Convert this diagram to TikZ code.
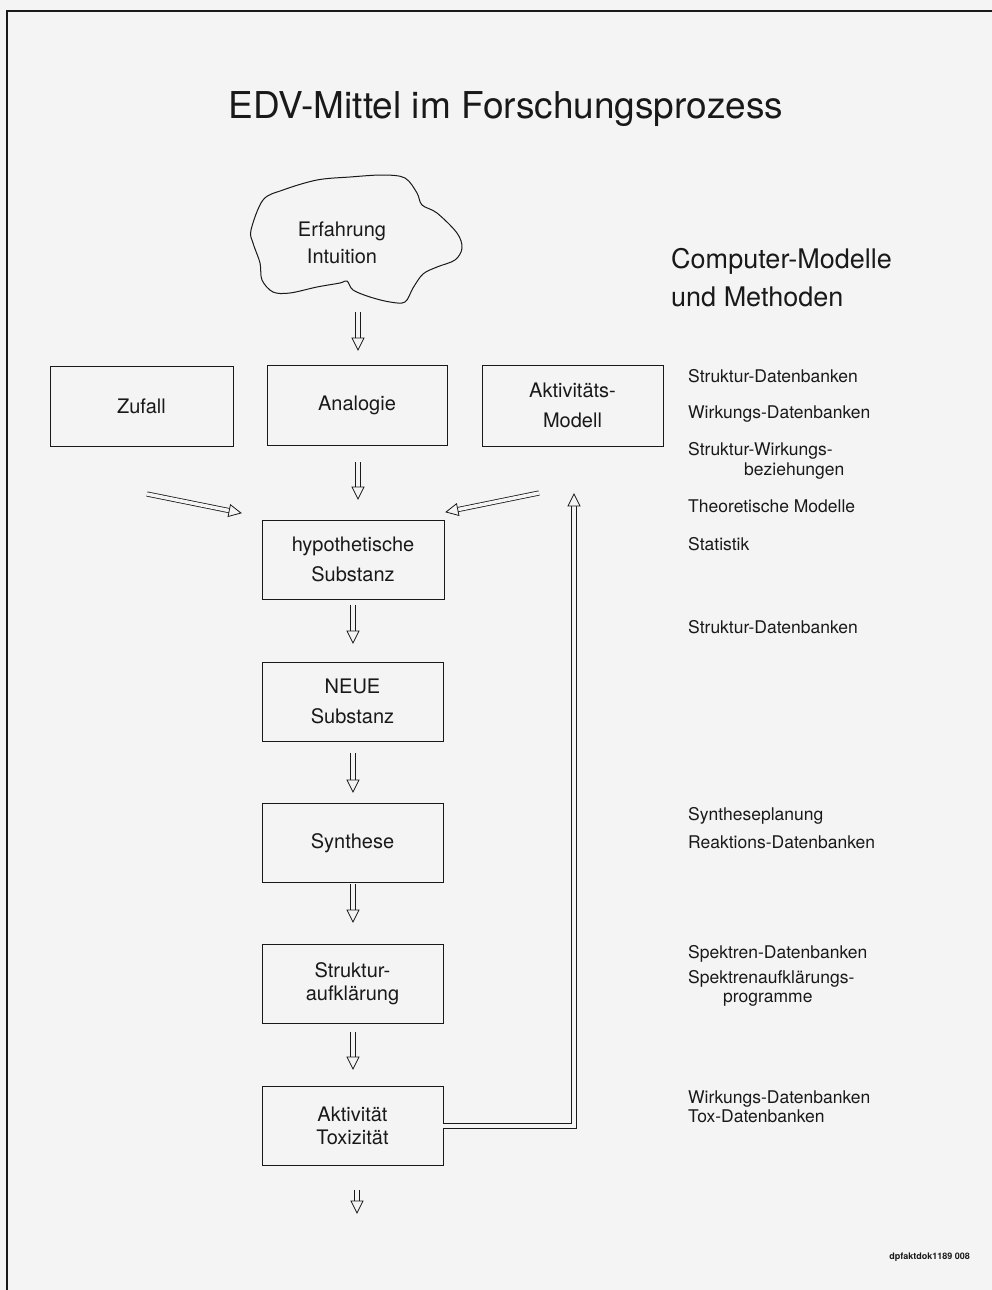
\documentclass[tikz,border=0pt]{standalone}
\usepackage{fontspec}
\setmainfont{TeX Gyre Heros}
\usetikzlibrary{calc}
\definecolor{paper}{gray}{0.955}
\definecolor{ink}{gray}{0.1}
\newcommand\hhead[2]{%
  \draw[holhead] ($(#2)!12pt!(#1)!6pt!90:(#2)$) -- (#2) -- ($(#2)!12pt!(#1)!6pt!-90:(#2)$) -- cycle;}
\newcommand\harrow[2]{%
  \draw[hol] (#1) -- ($(#2)!12pt!(#1)$);
  \hhead{#1}{#2}}
\begin{document}
\begin{tikzpicture}[x=1pt,y=-1pt,
  box/.style={draw=ink, line width=0.9pt, minimum width=181pt, minimum height=79pt, align=center, font=\fontsize{20}{30}\selectfont, inner sep=0pt, text=ink},
  lbl/.style={anchor=base west, font=\fontsize{17.5}{20}\selectfont, inner sep=0pt, text=ink},
  hol/.style={draw=ink, line width=0.8pt, double=paper, double distance=3.5pt},
  holhead/.style={draw=ink, line width=0.8pt, fill=paper, line join=miter}]
\fill[paper] (0,0) rectangle (992,1290);
\useasboundingbox (0,0) rectangle (992,1290);
% page frame
\draw[ink, line width=1.4pt] (7,1290) -- (7,11) -- (992,11);
% title
\node[anchor=base, inner sep=0pt, text=ink, font=\fontsize{37}{40}\selectfont] (title) at (506,118) {EDV-Mittel im Forschungsprozess};
% cloud
\node[align=center, inner sep=0pt, text=ink, font=\fontsize{20}{27}\selectfont] (cloud) at (342,243) {Erfahrung\\Intuition};
\draw[ink, line width=1pt] plot[smooth cycle, tension=0.55] coordinates {
 (251,230) (263,200) (283,190) (317,180) (350,177) (383,175) (405,178) (417,193)
 (422,205) (437,213) (457,233) (462,248) (455,260) (437,267) (423,274) (413,288)
 (405,302) (390,302) (370,297) (353,290) (347,281) (340,283) (317,287) (290,293)
 (273,292) (262,280) (260,263) (253,243)};
% boxes
\node[box, minimum width=183pt, minimum height=80pt] (zufall) at (141.5,406) {Zufall};
\node[box, minimum width=180pt, minimum height=80pt] (analogie) at (357,405) {Analogie};
\node[box, minimum height=81pt] (aktmod) at (572.5,405.5) {Aktivitäts-\\Modell};
\node[box, minimum width=182pt] (hyp) at (353,559.5) {hypothetische\\Substanz};
\node[box] (neue) at (352.5,701.5) {NEUE\\Substanz};
\node[box] (synth) at (352.5,843) {Synthese};
\node[box, font=\fontsize{20}{23}\selectfont] (strukt) at (352.5,984) {Struktur-\\aufklärung};
\node[box, font=\fontsize{20}{23}\selectfont] (akt) at (352.5,1126) {Aktivität\\Toxizität};
% arrow end points
\coordinate (a1s) at (358,312);  \coordinate (a1e) at (358,350);
\coordinate (a2s) at (358,462);  \coordinate (a2e) at (358,499);
\coordinate (a3s) at (147,494);  \coordinate (a3e) at (241,513);
\coordinate (a4s) at (539,493);  \coordinate (a4e) at (446,512);
\coordinate (a5s) at (353,605);  \coordinate (a5e) at (353,643);
\coordinate (a6s) at (353,753);  \coordinate (a6e) at (353,792);
\coordinate (a7s) at (353,884);  \coordinate (a7e) at (353,922);
\coordinate (a8s) at (353,1032); \coordinate (a8e) at (353,1069);
\coordinate (a9s) at (357,1190); \coordinate (a9e) at (357,1213);
\harrow{a1s}{a1e}
\harrow{a2s}{a2e}
\harrow{a3s}{a3e}
\harrow{a4s}{a4e}
\harrow{a5s}{a5e}
\harrow{a6s}{a6e}
\harrow{a7s}{a7e}
\harrow{a8s}{a8e}
\harrow{a9s}{a9e}
% feedback
\coordinate (fbtip) at (574,494);
\coordinate (fbtop) at (574,506);
\coordinate (fbref) at (574,540);
\draw[hol, line join=miter] (akt.east) -| (fbtop);
\hhead{fbref}{fbtip}
% right column
\node[lbl, anchor=base west, font=\fontsize{27}{30}\selectfont] (cm1) at (671,268) {Computer-Modelle};
\node[lbl, anchor=base west, font=\fontsize{27}{30}\selectfont] (cm2) at (671,306) {und Methoden};
\node[lbl] (r1) at (688,382) {Struktur-Datenbanken};
\node[lbl] (r2) at (688,418) {Wirkungs-Datenbanken};
\node[lbl] (r3) at (688,455) {Struktur-Wirkungs-};
\node[lbl] (r3b) at (744,475) {beziehungen};
\node[lbl] (r4) at (688,512) {Theoretische Modelle};
\node[lbl] (r5) at (688,550) {Statistik};
\node[lbl] (r6) at (688,633) {Struktur-Datenbanken};
\node[lbl] (r7) at (688,820) {Syntheseplanung};
\node[lbl] (r8) at (688,848) {Reaktions-Datenbanken};
\node[lbl] (r9) at (688,958) {Spektren-Datenbanken};
\node[lbl] (r10) at (688,983) {Spektrenaufklärungs-};
\node[lbl] (r10b) at (723,1002) {programme};
\node[lbl] (r11) at (688,1103) {Wirkungs-Datenbanken};
\node[lbl] (r12) at (688,1122) {Tox-Datenbanken};
\node[anchor=base east, inner sep=0pt, text=ink, font=\fontsize{9}{10}\selectfont\bfseries] (code) at (970,1259) {dpfaktdok1189 008};
\end{tikzpicture}
\end{document}
